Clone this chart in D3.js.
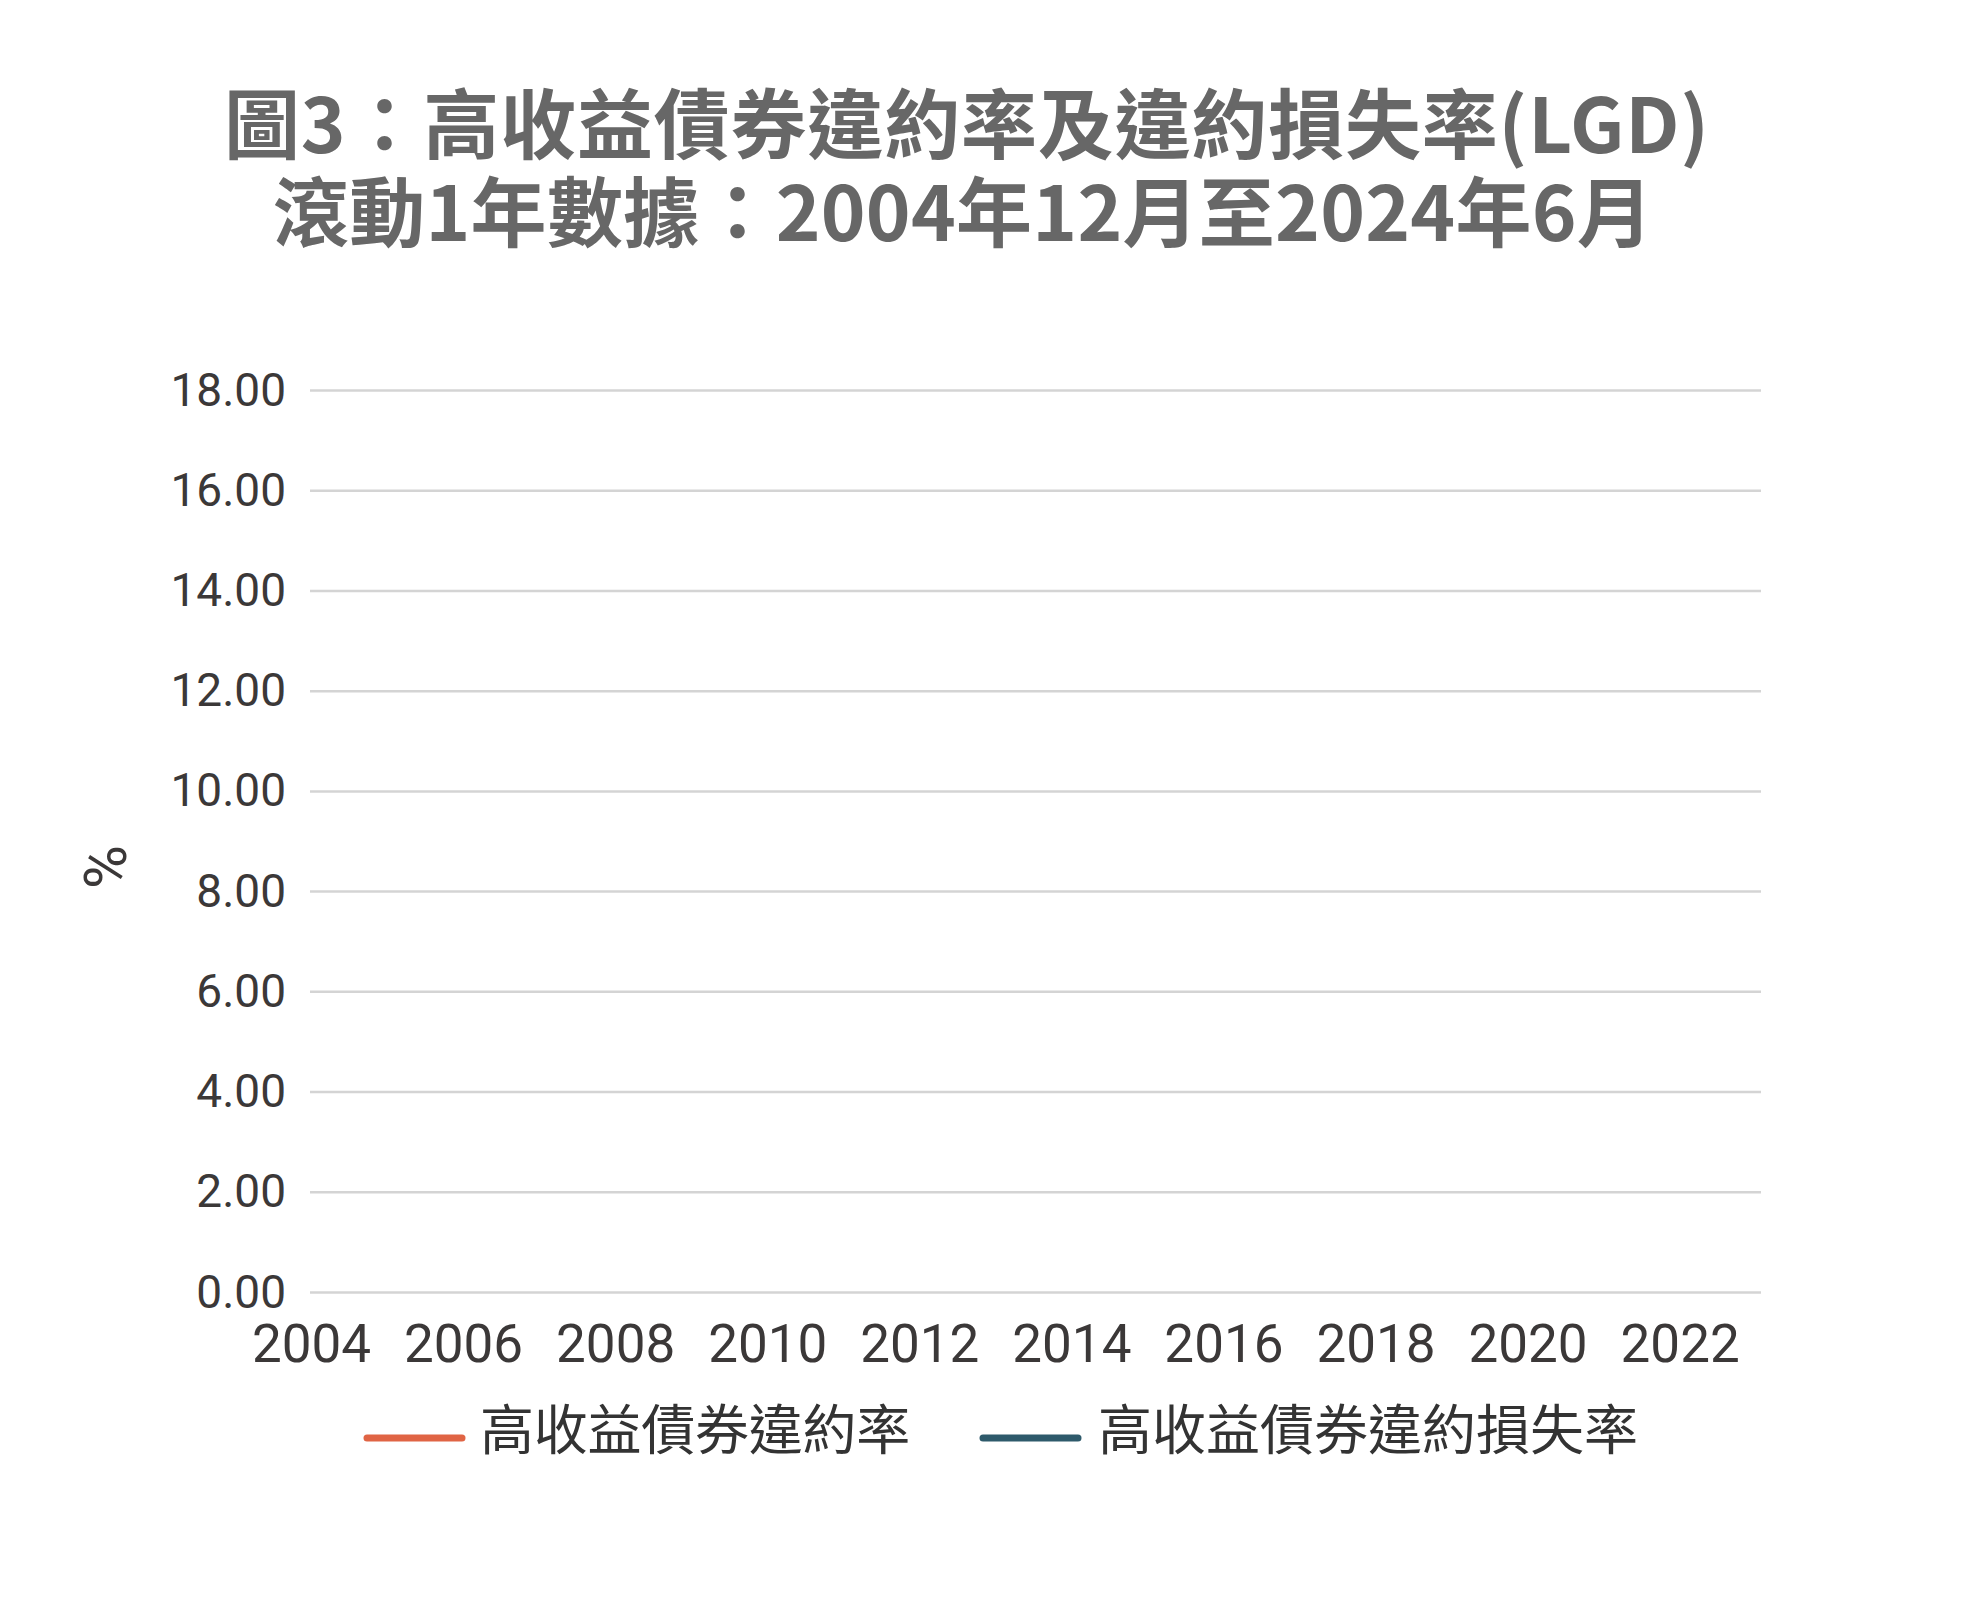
<!DOCTYPE html>
<html>
<head>
<meta charset="utf-8">
<script src="https://cdn.jsdelivr.net/npm/d3@7"></script>
<style>
  html, body { margin: 0; padding: 0; background: #ffffff; }
  svg { display: block; }
</style>
</head>
<body>
<svg id="chart" width="1980" height="1600"></svg>
<script>
// ---- Data ----
const titleLines = ["圖3：高收益債券違約率及違約損失率(LGD)", "滾動1年數據：2004年12月至2024年6月"];
const seriesNames = ["高收益債券違約率", "高收益債券違約損失率"];
const seriesColors = ["#E06444", "#2E5A6B"];
// The reference chart shows no plotted values for either series
const defaultRate = [];      // [{year, value}]
const lossRate = [];         // [{year, value}]
const yTicks = [0, 2, 4, 6, 8, 10, 12, 14, 16, 18];
const xTicks = [2004, 2006, 2008, 2010, 2012, 2014, 2016, 2018, 2020, 2022];
const xDomain = [2004, 2023.07];
const yDomain = [0, 18];
const yAxisTitle = "%";

// ---- Layout ----
const svg = d3.select("#chart");
const plot = { left: 310, right: 1761, top: 390, bottom: 1292 };

const x = d3.scaleLinear().domain(xDomain).range([plot.left + 1, plot.right]);
const y = d3.scaleLinear().domain(yDomain).range([plot.bottom, plot.top]);

// Helper: spread text to a target width via letter-spacing
function fitWidth(sel, target) {
  sel.each(function () {
    const n = this.textContent.length;
    const w = this.getComputedTextLength();
    const ls = (target - w) / n;
    d3.select(this).attr("letter-spacing", ls.toFixed(2));
  });
}

// Title (single text element, two lines)
const titleLayout = [
  { x: 224, y: 153, w: 1486 },
  { x: 273, y: 241, w: 1380 }
];
const title = svg.append("text")
  .attr("font-family", "'Noto Sans CJK TC', 'Noto Sans CJK SC', sans-serif")
  .attr("font-weight", 700)
  .attr("font-size", 76)
  .attr("fill", "#676767");
title.selectAll("tspan").data(titleLines).join("tspan")
  .attr("x", (d, i) => titleLayout[i].x)
  .attr("y", (d, i) => titleLayout[i].y)
  .text(d => d)
  .each(function (d, i) {
    const n = d.length;
    const w = this.getComputedTextLength();
    d3.select(this).attr("letter-spacing", ((titleLayout[i].w - w) / n).toFixed(2));
  });

// Y gridlines + labels
const yAxis = d3.axisLeft(y).tickValues(yTicks).tickSize(-(plot.right - plot.left)).tickPadding(24)
  .tickFormat(d3.format(".2f"));
const gy = svg.append("g").attr("transform", `translate(${plot.left},0)`).call(yAxis);
gy.select(".domain").remove();
gy.selectAll(".tick line").attr("stroke", "#d4d4d4").attr("stroke-width", 2.5);
gy.selectAll(".tick text")
  .attr("font-family", "Roboto, 'Noto Sans', sans-serif")
  .attr("font-size", 46)
  .attr("fill", "#3b3838")
  .attr("dy", null)
  .attr("y", 15);

// X labels
const xAxis = d3.axisBottom(x).tickValues(xTicks).tickSize(0).tickPadding(0).tickFormat(d3.format("d"));
const gx = svg.append("g").attr("transform", `translate(0,${plot.bottom})`).call(xAxis);
gx.select(".domain").remove();
gx.selectAll(".tick text")
  .attr("font-family", "Roboto, 'Noto Sans', sans-serif")
  .attr("font-size", 53)
  .attr("fill", "#3b3838")
  .attr("dy", null)
  .attr("y", 70);

// Y axis title
svg.append("text")
  .attr("transform", "translate(126,867) rotate(-90)")
  .attr("text-anchor", "middle")
  .attr("font-family", "Roboto, 'Noto Sans', sans-serif")
  .attr("font-size", 60)
  .attr("fill", "#3b3838")
  .text(yAxisTitle);

// Series lines (drawn from data; empty in reference)
const line = d3.line().x(d => x(d.year)).y(d => y(d.value));
[defaultRate, lossRate].forEach((s, i) => {
  svg.append("path").datum(s)
    .attr("fill", "none")
    .attr("stroke", seriesColors[i])
    .attr("stroke-width", 6)
    .attr("d", s.length ? line(s) : null);
});

// Legend
const legendItems = [
  { name: seriesNames[0], color: seriesColors[0], x1: 367, x2: 462, tx: 480, w: 430 },
  { name: seriesNames[1], color: seriesColors[1], x1: 983, x2: 1078, tx: 1098, w: 540 }
];
const lg = svg.append("g");
const items = lg.selectAll("g").data(legendItems).join("g");
items.append("line")
  .attr("x1", d => d.x1).attr("x2", d => d.x2)
  .attr("y1", 1438).attr("y2", 1438)
  .attr("stroke", d => d.color)
  .attr("stroke-width", 7)
  .attr("stroke-linecap", "round");
items.append("text")
  .attr("x", d => d.tx)
  .attr("y", 1450)
  .attr("font-family", "'Noto Sans CJK TC', 'Noto Sans CJK SC', sans-serif")
  .attr("font-size", 54)
  .attr("fill", "#333333")
  .text(d => d.name)
  .each(function (d) {
    const w = this.getComputedTextLength();
    d3.select(this).attr("letter-spacing", ((d.w - w) / d.name.length).toFixed(2));
  });
</script>
</body>
</html>
